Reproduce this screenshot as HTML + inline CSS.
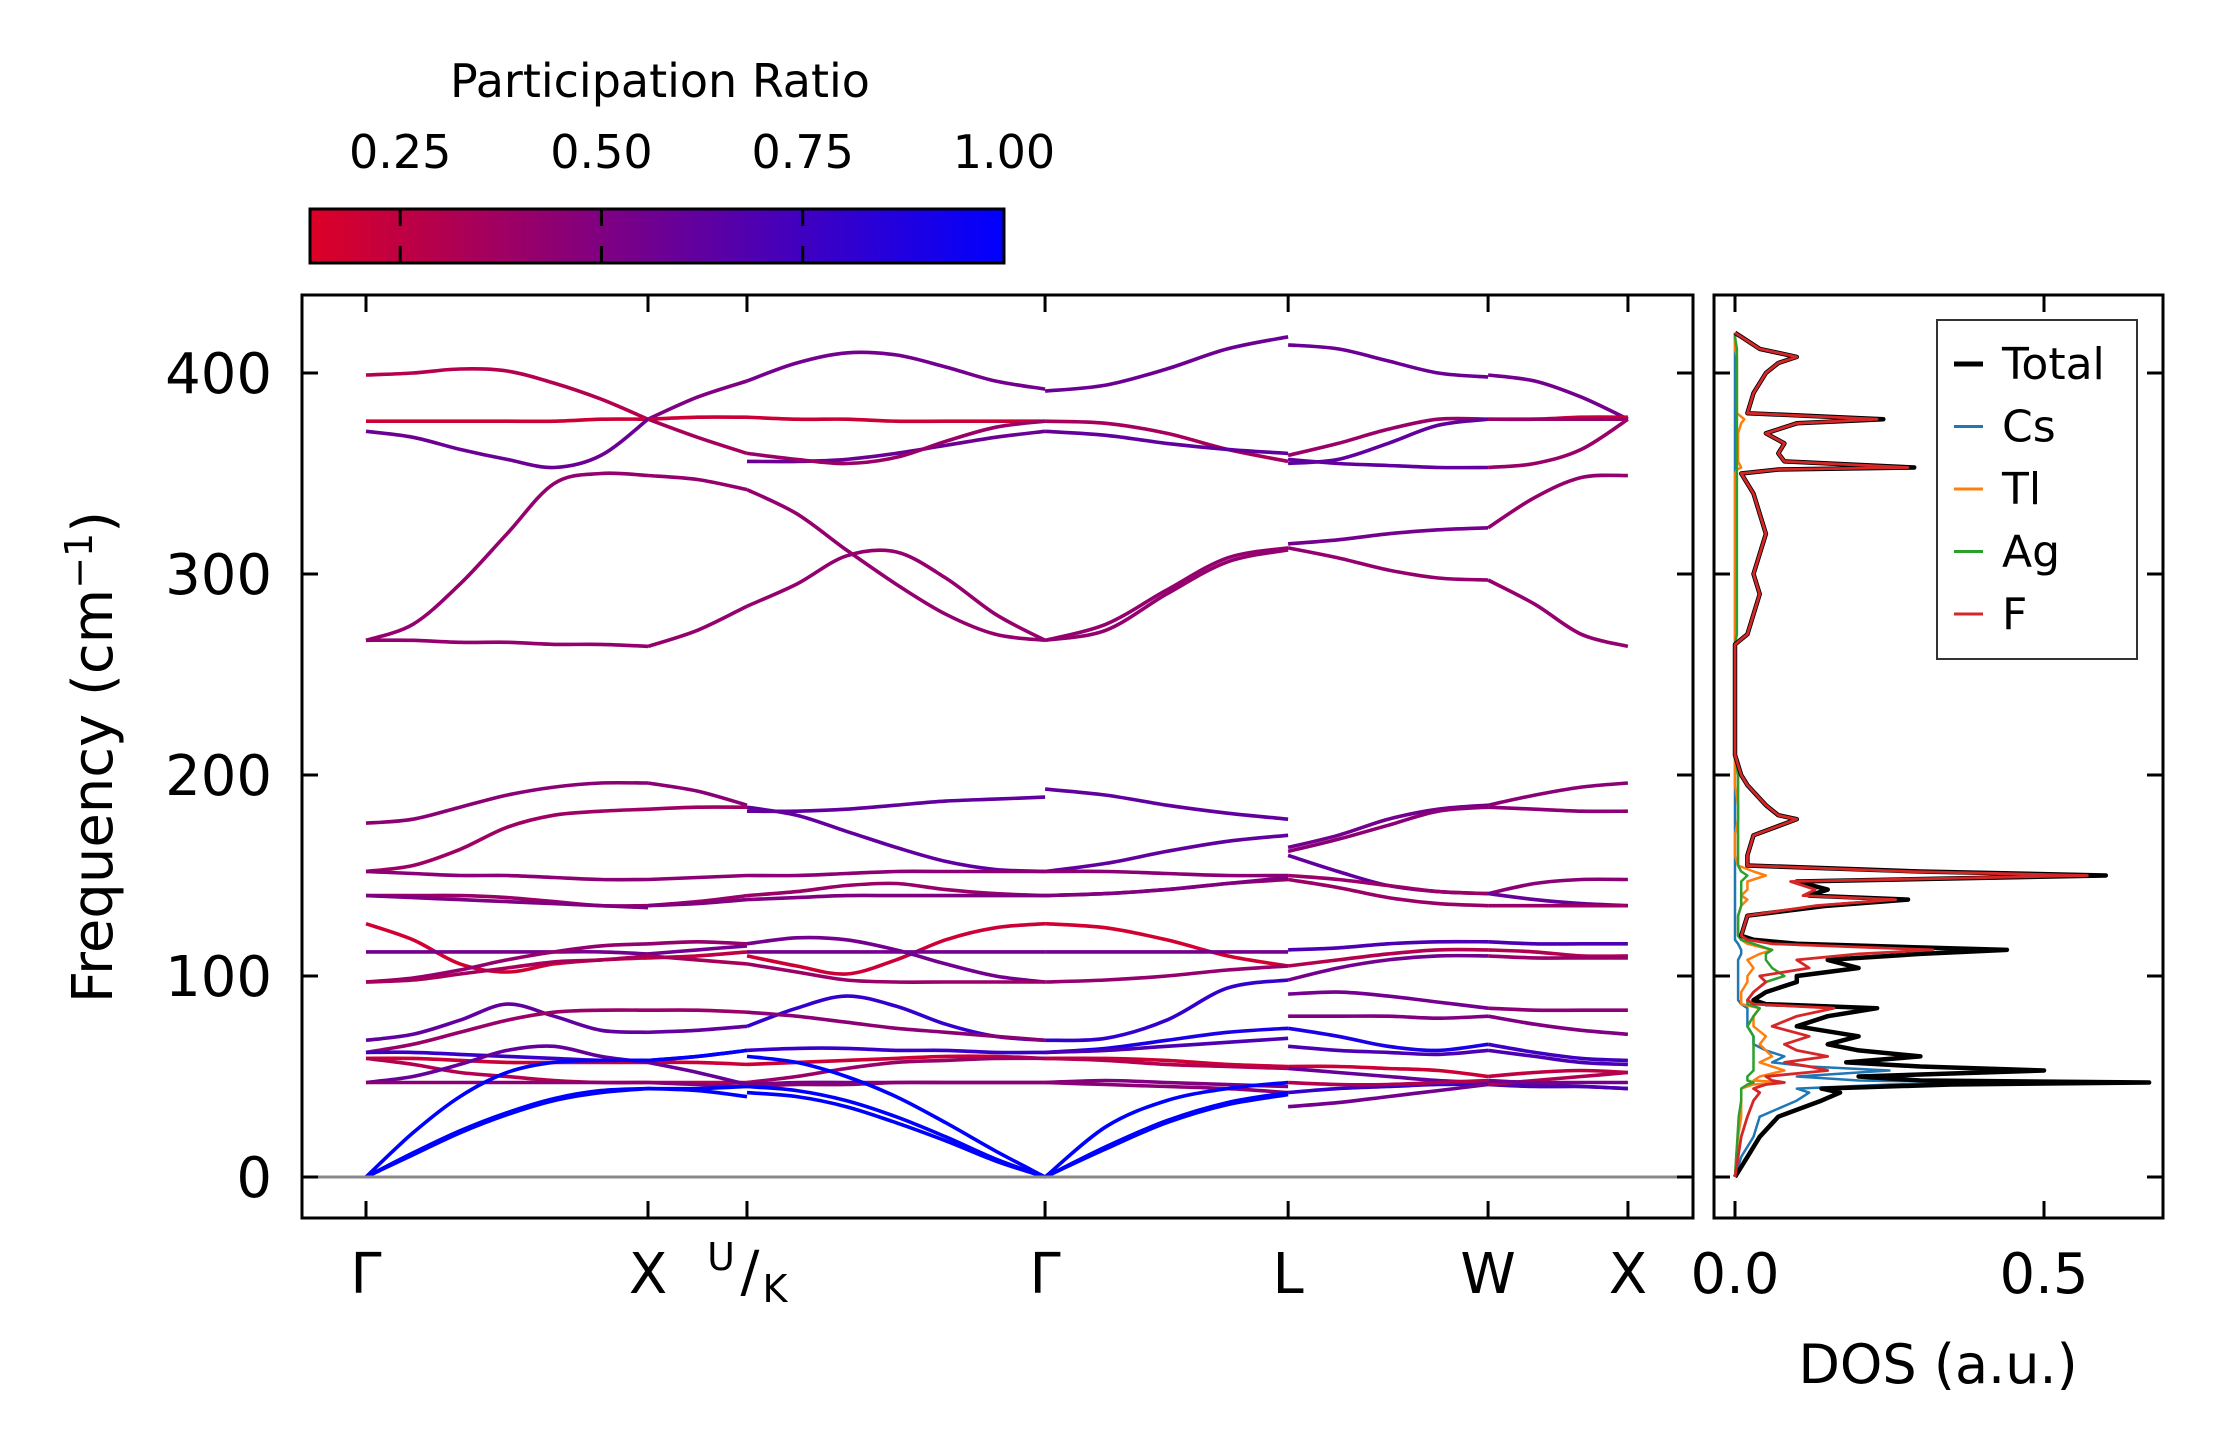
<!DOCTYPE html>
<html><head><meta charset="utf-8"><style>
html,body{margin:0;padding:0;background:#fff}
svg{display:block}
text{font-family:"DejaVu Sans","Liberation Sans",sans-serif;fill:#000}
</style></head><body>
<svg id="chart" width="2222" height="1455" viewBox="0 0 2222 1455" xmlns="http://www.w3.org/2000/svg">
<defs>
<linearGradient id="cbgrad" x1="0" y1="0" x2="1" y2="0">
<stop offset="0" stop-color="rgb(220,0,38)"/><stop offset="1" stop-color="rgb(0,0,255)"/>
</linearGradient>
<clipPath id="mainclip"><rect x="302" y="295" width="1391" height="923"/></clipPath>
<clipPath id="dosclip"><rect x="1714" y="295" width="449" height="923"/></clipPath>
</defs>
<g id="colorbar">
<text x="660" y="97" font-size="46" text-anchor="middle">Participation Ratio</text>
<rect x="310" y="209" width="694" height="54" fill="url(#cbgrad)" stroke="#000" stroke-width="3"/>
<g id="cbticks"></g>
</g>
<g id="main">
<g id="bands" clip-path="url(#mainclip)"></g>
<line x1="302" x2="1693" y1="1177" y2="1177" stroke="#888" stroke-width="3"/>
<rect x="302" y="295" width="1391" height="923" fill="none" stroke="#000" stroke-width="3"/>
<g id="mainticks"></g>
<text transform="translate(112,757) rotate(-90)" font-size="56" text-anchor="middle">Frequency (cm<tspan dy="-20" font-size="38">−1</tspan><tspan dy="20">)</tspan></text>
</g>
<g id="dos">
<g id="doslines" clip-path="url(#dosclip)"></g>
<rect x="1714" y="295" width="449" height="923" fill="none" stroke="#000" stroke-width="3"/>
<g id="dosticks"></g>
<text x="1938" y="1383" font-size="54" text-anchor="middle">DOS (a.u.)</text>
<g>
<rect x="1937" y="320" width="200" height="339" fill="#fff" stroke="#333" stroke-width="2"/>
<g id="legend"></g>
</g>
</g>
</svg>
<script>
// ---------- data ----------
const yTicks = [0, 100, 200, 300, 400];
const kLabels = ["Γ", "X", "U/K", "Γ", "L", "W", "X"];
const kTicks = [0, 1, 1.351, 2.408, 3.27, 3.979, 4.475];
const cbTicks = [0.25, 0.5, 0.75, 1.0];
const cbLabels = ["0.25", "0.50", "0.75", "1.00"];
const dosTicks = [0.0, 0.5];
const dosTickLabels = ["0.0", "0.5"];
const segStart = [0, 1, 1.351, 2.408, 3.27, 3.979];
const segEnd = [1, 1.351, 2.408, 3.27, 3.979, 4.475];

// bands per segment: [participation ratio, frequencies at evenly spaced k]
const seg1Bands = [
 [0.30,[399,400,402,401,395,387,377]],[0.20,[376,376,376,376,376,377,377]],
 [0.58,[371,368,362,357,353,359,377]],[0.42,[267,275,295,320,345,350,349]],
 [0.42,[267,267,266,266,265,265,264]],
 [0.45,[176,178,184,190,194,196,196]],[0.38,[152,155,163,174,180,182,183]],
 [0.45,[152,151,150,150,149,148,148]],[0.40,[140,140,140,139,137,135,135]],
 [0.50,[140,139,138,137,136,135,134]],[0.18,[126,118,106,102,106,108,109]],
 [0.55,[112,112,112,112,112,112,111]],[0.42,[97,99,103,108,112,115,116]],
 [0.35,[97,98,101,104,107,108,110]],[0.62,[68,71,78,86,80,73,72]],
 [0.40,[62,66,72,78,82,83,83]],[0.78,[62,62,61,60,59,58,58]],
 [0.20,[59,59,58,57,57,57,57]],[0.30,[59,56,52,50,48,47,47]],
 [0.60,[47,50,56,63,65,60,57]],[0.45,[47,47,47,47,47,47,47]],
 [1.0,[0,12,23,32,39,43,44]],[1.0,[0,11,22,31,38,42,44]],[1.0,[0,22,40,52,57,58,58]]
];
const seg2Bands = [
 [0.50,[377,388,396]],[0.20,[377,378,378]],[0.35,[377,368,360]],[0.42,[349,347,342]],[0.42,[264,272,284]],
 [0.45,[196,192,185]],[0.38,[183,184,184]],[0.45,[148,149,150]],[0.40,[135,137,140]],[0.50,[135,136,138]],
 [0.25,[109,110,112]],[0.55,[111,113,115]],[0.42,[116,117,116]],[0.35,[110,108,106]],[0.62,[72,73,75]],
 [0.40,[83,83,82]],[0.78,[58,60,63]],[0.20,[57,57,56]],[0.30,[47,47,47]],[0.60,[57,52,46]],[0.45,[47,46,45]],
 [1.0,[44,44,45]],[1.0,[44,43,40]],[1.0,[58,60,63]]
];
const seg3Bands = [
 [0.55,[396,405,410,409,403,396,392]],[0.20,[378,377,377,376,376,376,376]],
 [0.58,[356,356,357,360,364,368,371]],[0.40,[360,357,355,358,366,373,376]],
 [0.42,[342,330,312,295,280,270,267]],[0.42,[284,295,309,311,298,280,267]],
 [0.62,[182,182,183,185,187,188,189]],[0.62,[184,180,172,164,157,153,152]],
 [0.45,[150,150,151,152,152,152,152]],[0.40,[140,142,145,146,143,141,140]],
 [0.50,[138,139,140,140,140,140,140]],[0.20,[110,105,101,108,118,124,126]],
 [0.55,[112,112,112,112,112,112,112]],[0.55,[116,119,118,113,106,100,97]],
 [0.40,[106,102,98,97,97,97,97]],[0.80,[75,84,90,85,76,70,68]],
 [0.45,[82,80,77,74,72,70,68]],[0.78,[63,64,64,63,63,62,62]],
 [0.20,[56,57,58,59,60,60,59]],[0.40,[47,50,54,57,58,59,59]],
 [0.55,[46,47,47,47,47,47,47]],[0.45,[45,46,46,47,47,47,47]],
 [1.0,[45,43,38,30,20,9,0]],[1.0,[42,40,35,27,18,8,0]],[1.0,[60,57,50,40,27,13,0]]
];
const seg4Bands = [
 [0.58,[391,394,402,412,418]],[0.35,[376,375,370,362,356]],[0.62,[371,369,365,362,360]],
 [0.42,[267,275,292,308,313]],[0.42,[267,272,290,306,312]],
 [0.62,[193,190,185,181,178]],[0.62,[152,156,162,167,170]],[0.45,[152,152,151,150,150]],
 [0.40,[140,141,143,146,148]],[0.50,[140,141,143,146,149]],[0.18,[126,124,118,110,105]],
 [0.55,[112,112,112,112,112]],[0.42,[97,98,100,103,105]],[0.80,[68,69,78,94,98]],
 [0.90,[62,64,68,72,74]],[0.70,[62,63,65,67,69]],[0.20,[59,59,58,56,55]],[0.30,[59,58,56,55,54]],
 [0.50,[47,48,47,46,45]],[0.45,[47,46,45,44,42]],
 [1.0,[0,15,28,37,42]],[1.0,[0,14,27,36,41]],[1.0,[0,25,38,44,47]]
];
const seg5Bands = [
 [0.58,[414,412,406,400,398]],[0.40,[359,365,372,377,377]],[0.62,[355,357,365,374,377]],
 [0.62,[357,355,354,353,353]],[0.55,[315,317,320,322,323]],[0.42,[313,308,302,298,297]],
 [0.55,[164,170,178,183,185]],[0.45,[162,168,175,182,184]],[0.62,[160,152,145,142,141]],
 [0.40,[150,148,145,142,141]],[0.40,[148,144,139,136,135]],[0.70,[113,114,116,117,117]],
 [0.30,[105,108,111,113,113]],[0.55,[98,104,108,110,110]],[0.55,[91,92,90,87,84]],
 [0.50,[80,80,80,79,80]],[0.90,[74,70,65,63,66]],[0.70,[65,63,62,61,63]],
 [0.20,[55,55,54,53,50]],[0.60,[54,52,50,48,47]],[0.80,[42,44,45,46,46]],
 [0.55,[35,37,40,43,46]],[0.30,[47,46,46,47,48]]
];
const seg6Bands = [
 [0.55,[399,396,388,377]],[0.20,[377,377,378,378]],[0.40,[377,377,377,377]],[0.40,[353,355,362,377]],
 [0.42,[323,338,348,349]],[0.42,[297,285,270,264]],
 [0.45,[185,190,194,196]],[0.45,[184,183,182,182]],[0.45,[141,146,148,148]],[0.60,[141,138,136,135]],
 [0.40,[135,135,135,135]],[0.70,[117,116,116,116]],[0.30,[113,112,110,110]],[0.40,[110,109,109,109]],
 [0.45,[84,83,83,83]],[0.50,[80,76,73,71]],[0.75,[66,62,59,58]],[0.70,[63,60,57,56]],
 [0.25,[50,52,53,52]],[0.60,[47,46,45,44]],[0.70,[46,45,45,44]],[0.30,[46,48,50,52]],[0.55,[48,47,47,47]]
];
const allSegBands = [seg1Bands, seg2Bands, seg3Bands, seg4Bands, seg5Bands, seg6Bands];

// DOS
const dosFreq = [0,10,20,30,38,42,44,46,47,48,50,53,55,57,60,63,66,70,75,80,84,86,88,92,97,100,104,108,111,113,116,118,120,130,135,138,140,143,147,150,152,155,160,170,178,180,185,195,200,210,250,265,270,290,300,320,340,350,352,353,356,360,365,370,375,377,380,390,400,405,408,412,418,420];
const dosTotal = [0,0.02,0.04,0.07,0.14,0.17,0.14,0.35,0.67,0.30,
 0.20,0.50,0.30,0.18,0.30,0.20,0.15,0.20,0.10,0.15,
 0.23,0.05,0.03,0.05,0.10,0.10,0.20,0.15,0.30,0.44,
 0.10,0.03,0.01,0.02,0.15,0.28,0.12,0.15,0.10,0.60,
 0.30,0.02,0.02,0.03,0.10,0.07,0.05,0.02,0.01,0,
 0,0,0.02,0.04,0.03,0.05,0.03,0.01,0.07,0.29,
 0.08,0.07,0.08,0.05,0.10,0.24,0.02,0.03,0.05,0.07,
 0.10,0.04,0.01,0];
const dosCs = [0,0.01,0.03,0.04,0.10,0.12,0.10,0.25,0.42,0.20,
 0.10,0.25,0.12,0.06,0.08,0.05,0.03,0.03,0.02,0.02,
 0.02,0.01,0.005,0.005,0.005,0.005,0.005,0.005,0.01,0.01,
 0.005,0,0,0,0,0,0,0,0,0,
 0,0,0,0,0,0,0,0,0,0,
 0,0,0,0,0,0,0,0,0,0,
 0,0,0,0,0,0,0,0,0,0,
 0,0,0,0];
const dosTl = [0,0.002,0.005,0.01,0.01,0.01,0.01,0.03,0.08,0.03,
 0.04,0.08,0.06,0.04,0.06,0.05,0.04,0.05,0.03,0.03,
 0.04,0.01,0.01,0.01,0.02,0.02,0.03,0.02,0.04,0.06,
 0.02,0.01,0.005,0.005,0.01,0.02,0.01,0.02,0.02,0.05,
 0.03,0.005,0,0,0.005,0.005,0.005,0,0,0,
 0,0,0,0,0,0,0,0,0.003,0.01,
 0.005,0.005,0.005,0.005,0.01,0.015,0.003,0.003,0.003,0.003,
 0.003,0,0,0];
const dosAg = [0,0.002,0.004,0.006,0.01,0.01,0.01,0.02,0.03,0.02,
 0.02,0.03,0.03,0.03,0.03,0.03,0.03,0.03,0.02,0.03,
 0.04,0.02,0.02,0.03,0.05,0.08,0.06,0.05,0.05,0.06,
 0.03,0.01,0.005,0.005,0.01,0.01,0.01,0.01,0.01,0.02,
 0.01,0.005,0.005,0.005,0.005,0.005,0.005,0.005,0.005,0,
 0,0,0.003,0.003,0.003,0.003,0.003,0.003,0.003,0.003,
 0.003,0.003,0.003,0.003,0.003,0.003,0.003,0.003,0.003,0.003,
 0.003,0.003,0,0];
const dosF = [0,0.005,0.01,0.02,0.03,0.04,0.03,0.05,0.08,0.06,
 0.05,0.15,0.12,0.08,0.15,0.10,0.08,0.12,0.06,0.10,
 0.16,0.03,0.02,0.03,0.05,0.04,0.12,0.10,0.20,0.32,
 0.06,0.02,0.01,0.02,0.13,0.26,0.11,0.13,0.09,0.57,
 0.28,0.02,0.02,0.03,0.10,0.07,0.05,0.02,0.01,0,
 0,0,0.02,0.04,0.03,0.05,0.03,0.01,0.07,0.28,
 0.08,0.07,0.08,0.05,0.10,0.23,0.02,0.03,0.05,0.07,
 0.10,0.04,0.01,0];
const legendNames = ["Total", "Cs", "Tl", "Ag", "F"];

// ---------- scales ----------
const NS = "http://www.w3.org/2000/svg";
function yS(f) { return 1177 - f * 2.01; }
function kS(k) { return 366 + k * 282; }
function dS(d) { return 1735 + d * 618; }
function cbS(p) { return 310 + (p - 0.138) / (1 - 0.138) * 694; }
function prColor(p) {
  let t = (p - 0.138) / (1 - 0.138); t = Math.max(0, Math.min(1, t));
  return "rgb(" + Math.round(220 * (1 - t)) + ",0," + Math.round(38 + (255 - 38) * t) + ")";
}
function mk(tag, attrs, parent) {
  const e = document.createElementNS(NS, tag);
  for (const a in attrs) e.setAttribute(a, attrs[a]);
  parent.appendChild(e); return e;
}
function smoothPath(pts) {
  let d = "M" + pts[0][0].toFixed(1) + "," + pts[0][1].toFixed(1);
  for (let i = 0; i < pts.length - 1; i++) {
    const p0 = pts[Math.max(0, i - 1)], p1 = pts[i], p2 = pts[i + 1], p3 = pts[Math.min(pts.length - 1, i + 2)];
    const c1x = p1[0] + (p2[0] - p0[0]) / 6, c1y = p1[1] + (p2[1] - p0[1]) / 6;
    const c2x = p2[0] - (p3[0] - p1[0]) / 6, c2y = p2[1] - (p3[1] - p1[1]) / 6;
    d += " C" + c1x.toFixed(1) + "," + c1y.toFixed(1) + " " + c2x.toFixed(1) + "," + c2y.toFixed(1) + " " + p2[0].toFixed(1) + "," + p2[1].toFixed(1);
  }
  return d;
}

// ---------- colorbar ticks ----------
const cbt = document.getElementById("cbticks");
cbTicks.forEach((v, i) => {
  const x = cbS(v);
  if (v < 1) {
    const l1 = mk("line", {x1: x, x2: x, y1: 209, y2: 226, stroke: "#000", "stroke-width": 3}, cbt);
    
    
    const l2 = mk("line", {x1: x, x2: x, y1: 246, y2: 263, stroke: "#000", "stroke-width": 3}, cbt);
    
    
  }
  const t = mk("text", {x: x, y: 168, "font-size": 46, "text-anchor": "middle"}, cbt);
  
  
  t.textContent = cbLabels[i];
});

// ---------- bands ----------
const bg = document.getElementById("bands");
allSegBands.forEach((bands, si) => {
  const k0 = segStart[si], k1 = segEnd[si];
  bands.forEach(b => {
    const vals = b[1], n = vals.length;
    const pts = vals.map((f, j) => [kS(k0 + (k1 - k0) * j / (n - 1)), yS(f)]);
    const p = mk("path", {d: smoothPath(pts), fill: "none", stroke: prColor(b[0]), "stroke-width": 3.6, "stroke-linecap": "butt"}, bg);
    
    
  });
});

// ---------- main ticks ----------
const mt = document.getElementById("mainticks");
yTicks.forEach(v => {
  const y = yS(v);
  const a = mk("line", {x1: 302, x2: 318, y1: y, y2: y, stroke: "#000", "stroke-width": 3}, mt);
  
  
  const b = mk("line", {x1: 1677, x2: 1693, y1: y, y2: y, stroke: "#000", "stroke-width": 3}, mt);
  
  
  const t = mk("text", {x: 272, y: y + 20, "font-size": 56, "text-anchor": "end"}, mt);
  
  
  t.textContent = String(v);
});
kTicks.forEach((k, i) => {
  const x = kS(k);
  const a = mk("line", {x1: x, x2: x, y1: 1218, y2: 1201, stroke: "#000", "stroke-width": 3}, mt);
  
  
  const b = mk("line", {x1: x, x2: x, y1: 295, y2: 312, stroke: "#000", "stroke-width": 3}, mt);
  
  
  const lab = kLabels[i];
  if (lab === "U/K") {
    const t = mk("text", {x: x - 26, y: 1270, "font-size": 38, "text-anchor": "middle"}, mt);
    
    
    t.textContent = "U";
    const s = mk("text", {x: x + 3, y: 1291, "font-size": 56, "text-anchor": "middle"}, mt);
    
    
    s.textContent = "/";
    const kk = mk("text", {x: x + 28, y: 1302, "font-size": 38, "text-anchor": "middle"}, mt);
    
    
    kk.textContent = "K";
  } else {
    const t = mk("text", {x: x, y: 1293, "font-size": 56, "text-anchor": "middle"}, mt);
    
    
    t.textContent = lab;
  }
});

// ---------- DOS ----------
const dl = document.getElementById("doslines");
const dosSeries = [dosCs, dosTl, dosAg, dosTotal, dosF];
const dosColors = ["#1f77b4", "#ff7f0e", "#2ca02c", "#000000", "#d62728"];
const dosWidths = [2.5, 2.5, 2.5, 4.5, 2.8];
const dosNames = ["dos-cs", "dos-tl", "dos-ag", "dos-total", "dos-f"];
dosSeries.forEach((s, i) => {
  const n = Math.min(s.length, dosFreq.length);
  let d = "";
  for (let j = 0; j < n; j++) d += (j ? " L" : "M") + dS(s[j]).toFixed(1) + "," + yS(dosFreq[j]).toFixed(1);
  const p = mk("path", {d: d, fill: "none", stroke: dosColors[i], "stroke-width": dosWidths[i], "stroke-linejoin": "round"}, dl);
  
  
});
const dt = document.getElementById("dosticks");
yTicks.forEach(v => {
  const y = yS(v);
  const a = mk("line", {x1: 1714, x2: 1730, y1: y, y2: y, stroke: "#000", "stroke-width": 3}, dt);
  
  
  const b = mk("line", {x1: 2147, x2: 2163, y1: y, y2: y, stroke: "#000", "stroke-width": 3}, dt);
  
  
});
dosTicks.forEach((v, i) => {
  const x = dS(v);
  const a = mk("line", {x1: x, x2: x, y1: 1218, y2: 1201, stroke: "#000", "stroke-width": 3}, dt);
  
  
  const b = mk("line", {x1: x, x2: x, y1: 295, y2: 312, stroke: "#000", "stroke-width": 3}, dt);
  
  
  const t = mk("text", {x: x, y: 1293, "font-size": 56, "text-anchor": "middle"}, dt);
  
  
  t.textContent = dosTickLabels[i];
});
const lg = document.getElementById("legend");
const legColors = ["#000000", "#1f77b4", "#ff7f0e", "#2ca02c", "#d62728"];
legendNames.forEach((nm, i) => {
  const y = 364 + i * 62.5;
  const l = mk("line", {x1: 1954, x2: 1983, y1: y, y2: y, stroke: legColors[i], "stroke-width": i === 0 ? 5 : 3}, lg);
  
  
  const t = mk("text", {x: 2002, y: y + 15, "font-size": 44}, lg);
  
  
  t.textContent = nm;
});
</script>
</body></html>
